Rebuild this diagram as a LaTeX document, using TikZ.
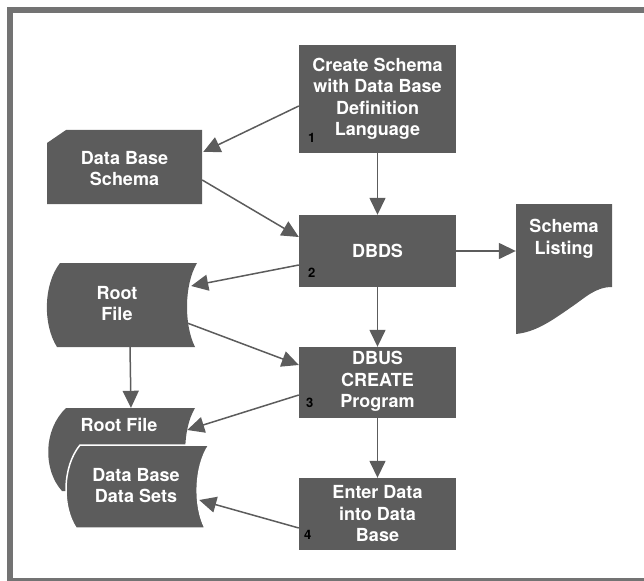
\documentclass[tikz,border=0pt]{standalone}
\usepackage{fontspec}
\setmainfont{TeX Gyre Heros}
\usetikzlibrary{arrows.meta}
\definecolor{boxgray}{RGB}{92,92,92}
\definecolor{framegray}{RGB}{115,115,115}
\begin{document}
\begin{tikzpicture}[x=1pt,y=-1pt,
  proc/.style={fill=boxgray, draw=none, minimum width=157pt, inner sep=0pt},
  ghost/.style={draw=none, fill=none, inner sep=0pt},
  txt/.style={text=white, align=center, inner sep=0pt, font=\bfseries\fontsize{18}{21.5}\selectfont},
  num/.style={text=black, inner sep=0pt, font=\bfseries\fontsize{13}{13}\selectfont},
  conn/.style={draw=boxgray, line width=1.5pt, -{Triangle[length=17pt,width=16pt]}},
  shapefill/.style={fill=boxgray}
]
\useasboundingbox (0,0) rectangle (644,580);
\draw[framegray, line width=6pt] (10,10) rectangle (647,581);

% process boxes
\node[proc, minimum height=108pt] (b1) at (377.5,99) {};
\node[txt] (b1t) at (b1.center) {Create Schema\\with Data Base\\Definition\\Language};
\node[proc, minimum height=72pt] (dbds) at (377.5,251) {};
\node[txt] (dbdst) at (dbds.center) {DBDS};
\node[proc, minimum height=71pt] (dbus) at (377.5,382.5) {};
\node[txt] (dbust) at (377.5,381.5) {DBUS\\CREATE\\Program};
\node[proc, minimum height=72pt] (enter) at (377.5,514) {};
\node[txt] (entert) at (enter.center) {Enter Data\\into Data\\Base};

\node[num] (n1) at ([xshift=13pt,yshift=15pt]b1.south west) {1};
\node[num] (n2) at ([xshift=13pt,yshift=14pt]dbds.south west) {2};
\node[num] (n3) at ([xshift=11pt,yshift=15pt]dbus.south west) {3};
\node[num] (n4) at ([xshift=9pt,yshift=15pt]enter.south west) {4};

% Data Base Schema (card)
\fill[shapefill] (47,143) -- (66,130) -- (202,130) -- (202,204) -- (47,204) -- cycle;
\node[ghost, minimum width=155pt, minimum height=74pt] (dbs) at (124.5,167) {};
\node[txt] (dbst) at (124.5,168.5) {Data Base\\Schema};

% Schema Listing (document)
\fill[shapefill] (516,204) -- (612,204) -- (612,287) .. controls (595,287) and (585,298) .. (570,308) .. controls (550,322) and (535,332) .. (516,334) -- cycle;
\node[ghost, minimum width=96pt, minimum height=130pt] (sl) at (564,269) {};
\node[txt] (slt) at (564,239) {Schema\\Listing};

% Root File (stored data)
\fill[shapefill] (60,263) -- (197,263) .. controls (184,285) and (184,325) .. (195,347) -- (57,347) .. controls (43,325) and (43,285) .. (60,263) -- cycle;
\node[ghost, minimum width=150pt, minimum height=84pt] (rf) at (122,305) {};
\node[txt] (rft) at (117,303.5) {Root\\File};

% Root File (second) and Data Base Data Sets
\fill[shapefill] (66,408) -- (195,408) .. controls (182,430) and (182,470) .. (195,491) -- (62,491) .. controls (43,470) and (43,430) .. (66,408) -- cycle;
\node[ghost, minimum width=148pt, minimum height=83pt] (rf2) at (121,449.5) {};
\node[txt] (rf2t) at (119,425) {Root File};

\filldraw[shapefill, draw=white, line width=1.5pt] (80,445) -- (209,445) .. controls (194,467) and (194,507) .. (205,528) -- (76,528) .. controls (62,507) and (62,467) .. (80,445) -- cycle;
\node[ghost, minimum width=141pt, minimum height=83pt] (ds) at (138.5,486.5) {};
\node[txt] (dst) at (136,485.5) {Data Base\\Data Sets};

% connectors
\draw[conn] ([yshift=-7pt]b1.west) -- ([xshift=1pt,yshift=15pt]dbs.east);
\draw[conn] (b1.south) -- (dbds.north);
\draw[conn] ([yshift=-13pt]dbs.east) -- ([yshift=14pt]dbds.west);
\draw[conn] (dbds.east) -- (dbds.east -| sl.west);
\draw[conn] ([yshift=-14pt]dbds.west) -- ([xshift=-6pt,yshift=19pt]rf.east);
\draw[conn] ([xshift=-10pt,yshift=-18pt]rf.east) -- ([yshift=17.5pt]dbus.west);
\draw[conn] ([xshift=8pt]rf.south) -- ([xshift=10pt]rf2.north);
\draw[conn] (dbds.south) -- (dbus.north);
\draw[conn] ([yshift=-12.5pt]dbus.west) -- ([xshift=-8pt,yshift=19.5pt]rf2.east);
\draw[conn] (dbus.south) -- (enter.north);
\draw[conn] ([yshift=-14pt]enter.west) -- ([xshift=-10pt,yshift=-13.5pt]ds.east);
\end{tikzpicture}
\end{document}
